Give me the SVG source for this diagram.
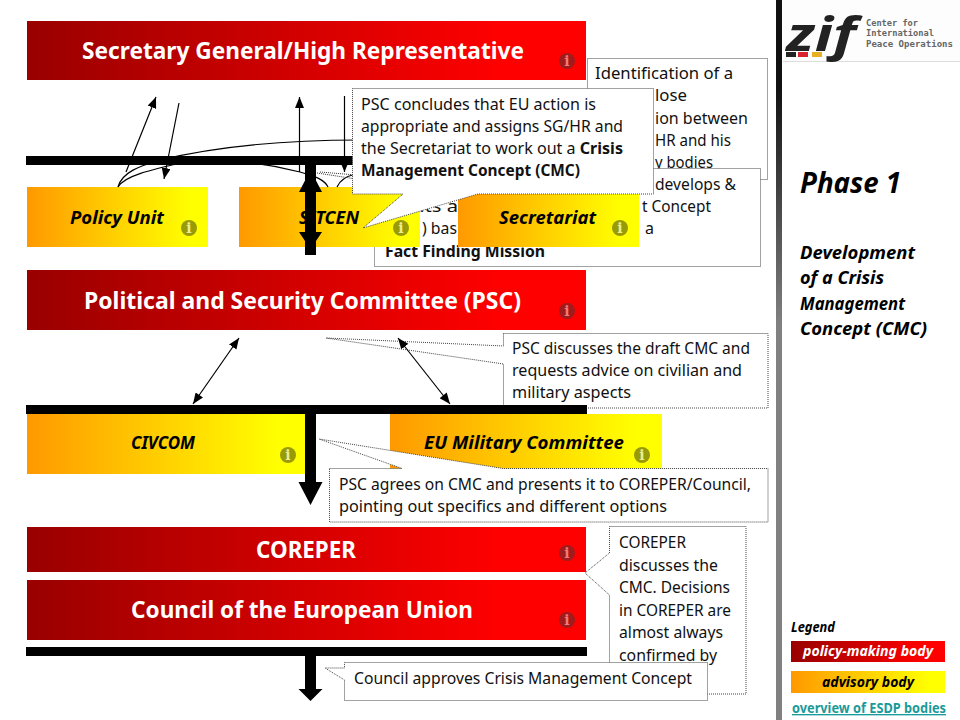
<svg xmlns="http://www.w3.org/2000/svg" width="960" height="720" viewBox="0 0 960 720">
<style>
text{font-family:"Noto Sans","Open Sans","Liberation Sans",sans-serif}
.t{font-size:16px;fill:#111}
.tb{font-size:16px;fill:#111;font-weight:700}
.h{font-size:24px;font-weight:700;fill:#fff;text-anchor:start}
.a{font-size:17px;font-weight:700;font-style:italic;fill:#000}
.p{font-size:18px;font-weight:700;font-style:italic;fill:#000}
.box{fill:#fff;stroke:#444;stroke-width:1;stroke-dasharray:1 1}
.bar{fill:#000}
.thin{fill:none;stroke:#000;stroke-width:1.2}
.ar{stroke:#000;stroke-width:1.2;fill:none;marker-end:url(#ah)}
.ar2{stroke:#000;stroke-width:1.2;fill:none;marker-end:url(#ah);marker-start:url(#ahs)}
.ir{fill:#a01c1c}.iy{fill:#999a08}
.il{font-family:"DejaVu Serif",serif;font-size:14px;font-weight:700;text-anchor:middle}
.ilr{fill:#f47878}.ily{fill:#eded90}
.lg{font-family:"DejaVu Sans Mono",monospace;font-size:9.500px;font-weight:700;fill:#666}
</style>
<defs>
<linearGradient id="red"><stop offset="0" stop-color="#990000"/><stop offset="0.85" stop-color="#ff0000"/></linearGradient>
<linearGradient id="org"><stop offset="0" stop-color="#ff9900"/><stop offset="0.9" stop-color="#ffff00"/></linearGradient>
<linearGradient id="vline" x1="0" y1="0" x2="0" y2="1"><stop offset="0.12" stop-color="#111"/><stop offset="0.45" stop-color="#808080"/></linearGradient>
<marker id="ah" markerUnits="userSpaceOnUse" markerWidth="12" markerHeight="10" refX="11" refY="4.5" orient="auto"><path d="M0 0L11 4.5L0 9z" fill="#000"/></marker>
<marker id="ahs" markerUnits="userSpaceOnUse" markerWidth="12" markerHeight="10" refX="0" refY="4.5" orient="auto"><path d="M11 0L0 4.5L11 9z" fill="#000"/></marker>
</defs>

<rect x="776" y="0" width="6" height="720" fill="url(#vline)"/>

<g id="note-identification">
<rect class="box" x="587.500" y="58.500" width="180" height="121"/>
<text class="t" x="595" y="79" textLength="138" lengthAdjust="spacingAndGlyphs">Identification of a</text>
<text class="t" x="655" y="101" textLength="32" lengthAdjust="spacingAndGlyphs">lose</text>
<text class="t" x="655" y="124" textLength="93" lengthAdjust="spacingAndGlyphs">ion between</text>
<text class="t" x="655" y="146" textLength="76" lengthAdjust="spacingAndGlyphs">HR and his</text>
<text class="t" x="655" y="168" textLength="58" lengthAdjust="spacingAndGlyphs">y bodies</text>
</g>
<g id="note-secretariat">
<rect class="box" x="374.500" y="168.500" width="386" height="98"/>
<text class="t" x="655" y="190" textLength="81" lengthAdjust="spacingAndGlyphs">develops &amp;</text>
<text class="t" x="642" y="212" textLength="69" lengthAdjust="spacingAndGlyphs">t Concept</text>
<text class="t" x="412" y="212" textLength="46" lengthAdjust="spacingAndGlyphs">nts a</text>
<text class="t" x="422" y="234" textLength="35" lengthAdjust="spacingAndGlyphs">) bas</text>
<text class="t" x="645" y="234">a</text>
<text class="tb" x="385" y="257" textLength="160" lengthAdjust="spacingAndGlyphs">Fact Finding Mission</text>
</g>

<g id="sg-hr">
<rect x="27" y="21" width="559" height="59" fill="url(#red)"/>
<text class="h" x="82" y="59" textLength="442" lengthAdjust="spacingAndGlyphs">Secretary General/High Representative</text>
<circle class="ir" cx="567" cy="61" r="8"/><text class="il ilr" x="567" y="66">i</text>
</g>
<g id="policy-unit">
<rect x="27" y="187" width="181" height="60" fill="url(#org)"/>
<text class="a" x="70" y="224" textLength="94" lengthAdjust="spacingAndGlyphs">Policy Unit</text>
<circle class="iy" cx="189" cy="228" r="8"/><text class="il ily" x="189" y="233">i</text>
</g>
<g id="sitcen">
<rect x="239" y="187" width="181" height="60" fill="url(#org)"/>
<text class="a" x="299" y="224" textLength="60" lengthAdjust="spacingAndGlyphs">SITCEN</text>
<circle class="iy" cx="401" cy="228" r="8"/><text class="il ily" x="401" y="233">i</text>
</g>
<g id="secretariat">
<rect x="458" y="187" width="181" height="60" fill="url(#org)"/>
<text class="a" x="499" y="224" textLength="97" lengthAdjust="spacingAndGlyphs">Secretariat</text>
<circle class="iy" cx="620" cy="228" r="8"/><text class="il ily" x="620" y="233">i</text>
</g>
<g id="psc">
<rect x="27" y="270" width="559" height="60" fill="url(#red)"/>
<text class="h" x="84" y="309" textLength="437" lengthAdjust="spacingAndGlyphs">Political and Security Committee (PSC)</text>
<circle class="ir" cx="567" cy="311" r="8"/><text class="il ilr" x="567" y="316">i</text>
</g>
<g id="civcom">
<rect x="27" y="414" width="278" height="60" fill="url(#org)"/>
<text class="a" x="131" y="449" textLength="64" lengthAdjust="spacingAndGlyphs">CIVCOM</text>
<circle class="iy" cx="288" cy="455" r="8"/><text class="il ily" x="288" y="460">i</text>
</g>
<g id="eumc">
<rect x="390" y="414" width="272" height="60" fill="url(#org)"/>
<text class="a" x="424" y="449" textLength="200" lengthAdjust="spacingAndGlyphs">EU Military Committee</text>
<circle class="iy" cx="642" cy="455" r="8"/><text class="il ily" x="642" y="460">i</text>
</g>
<g id="coreper">
<rect x="27" y="527" width="559" height="45" fill="url(#red)"/>
<text class="h" x="256" y="558" textLength="100" lengthAdjust="spacingAndGlyphs">COREPER</text>
<circle class="ir" cx="567" cy="553" r="8"/><text class="il ilr" x="567" y="558">i</text>
</g>
<g id="council">
<rect x="27" y="580" width="559" height="60" fill="url(#red)"/>
<text class="h" x="131" y="618" textLength="342" lengthAdjust="spacingAndGlyphs">Council of the European Union</text>
<circle class="ir" cx="567" cy="620" r="8"/><text class="il ilr" x="567" y="625">i</text>
</g>

<g id="note-psc-discusses">
<path class="box" d="M503.500 333.500H768V408H503.500V364L326 338L503.500 346Z"/>
<text class="t" x="512" y="354" textLength="238" lengthAdjust="spacingAndGlyphs">PSC discusses the draft CMC and</text>
<text class="t" x="512" y="376" textLength="230" lengthAdjust="spacingAndGlyphs">requests advice on civilian and</text>
<text class="t" x="512" y="398" textLength="119" lengthAdjust="spacingAndGlyphs">military aspects</text>
</g>

<g id="connectors">
<rect class="bar" x="26" y="156" width="560" height="9"/>
<rect class="bar" x="26" y="405" width="561" height="9"/>
<rect class="bar" x="26" y="647" width="561" height="9"/>
<path class="ar" d="M126 172L156 97"/>
<path class="ar" d="M179 103L164 179"/>
<path class="ar" d="M299.500 172V97"/>
<path class="ar" d="M344.500 96V172"/>
<path class="thin" d="M118 187C122 172 140 166 160 160C210 148 280 140 360 140"/>
<path class="thin" d="M118 187C124 176 150 170 185 162C220 158 262 162 300 172C315 176 325 180 328 187"/>
<path class="thin" d="M337 187C340 180 347 176 356 174"/>
<path d="M317 173L356 179M320 172L356 175" fill="none" stroke="#333" stroke-width="1" stroke-dasharray="1 1"/>
<path class="ar2" d="M193 404L239 338"/>
<path class="ar2" d="M450 404L398 338"/>
<path class="bar" d="M305 165H316V232H322L316 241V255H305V241L299 232H305V192H299L310.500 170L322 192H316V232H305Z"/>
<path class="bar" d="M305 414H316V482H322.500L310.500 505L298.500 482H305Z"/>
<path class="bar" d="M305 656H316V689H322.500L310.500 701L298.500 689H305Z"/>
</g>

<g id="note-psc-concludes">
<path class="box" d="M352.500 88.500H653.500V194H478L363 228L403 194H352.500Z"/>
<text class="t" x="361" y="110" textLength="235" lengthAdjust="spacingAndGlyphs">PSC concludes that EU action is</text>
<text class="t" x="361" y="132" textLength="262" lengthAdjust="spacingAndGlyphs">appropriate and assigns SG/HR and</text>
<text class="t" x="361" y="154" textLength="262" lengthAdjust="spacingAndGlyphs">the Secretariat to work out a <tspan font-weight="700">Crisis</tspan></text>
<text class="tb" x="361" y="176" textLength="219" lengthAdjust="spacingAndGlyphs">Management Concept (CMC)</text>
</g>
<g id="note-psc-agrees">
<path class="box" d="M329.500 468.500H402L319 439L503 468.500H768V522H329.500Z"/>
<text class="t" x="339" y="490" textLength="412" lengthAdjust="spacingAndGlyphs">PSC agrees on CMC and presents it to COREPER/Council,</text>
<text class="t" x="339" y="512" textLength="328" lengthAdjust="spacingAndGlyphs">pointing out specifics and different options</text>
</g>
<g id="note-coreper">
<path class="box" d="M609.500 526.500H746V694H609.500V595L585 573L609.500 553Z"/>
<text class="t" x="619" y="548" textLength="67" lengthAdjust="spacingAndGlyphs">COREPER</text>
<text class="t" x="619" y="571" textLength="99" lengthAdjust="spacingAndGlyphs">discusses the</text>
<text class="t" x="619" y="593" textLength="111" lengthAdjust="spacingAndGlyphs">CMC. Decisions</text>
<text class="t" x="619" y="616" textLength="112" lengthAdjust="spacingAndGlyphs">in COREPER are</text>
<text class="t" x="619" y="638" textLength="104" lengthAdjust="spacingAndGlyphs">almost always</text>
<text class="t" x="619" y="661" textLength="98" lengthAdjust="spacingAndGlyphs">confirmed by</text>
</g>
<g id="note-council">
<path class="box" d="M344.500 662.500H707.500V700.500H344.500V680L325 668L344.500 668Z"/>
<text class="t" x="354" y="684" textLength="338" lengthAdjust="spacingAndGlyphs">Council approves Crisis Management Concept</text>
</g>

<g id="logo">
<rect x="783" y="0" width="177" height="61" fill="#fdfdfd"/>
<path d="M783 61.500H960" stroke="#ddd" stroke-width="1"/>
<text x="786" y="51" font-size="47" font-weight="700" font-style="italic" fill="#222" textLength="70" lengthAdjust="spacingAndGlyphs">zif</text>
<rect x="786" y="52" width="10" height="5" fill="#222"/><rect x="798" y="52" width="10" height="5" fill="#d9232e"/><rect x="812" y="52" width="10" height="5" fill="#e8b020"/>
<text class="lg" x="866" y="26" textLength="52" lengthAdjust="spacingAndGlyphs">Center for</text>
<text class="lg" x="866" y="36" textLength="68" lengthAdjust="spacingAndGlyphs">International</text>
<text class="lg" x="866" y="47" textLength="87" lengthAdjust="spacingAndGlyphs">Peace Operations</text>
</g>

<g id="phase">
<text x="800" y="193" font-size="29" font-weight="700" font-style="italic" fill="#000" textLength="101" lengthAdjust="spacingAndGlyphs">Phase 1</text>
<text class="p" x="800" y="259" textLength="115" lengthAdjust="spacingAndGlyphs">Development</text>
<text class="p" x="800" y="284" textLength="84" lengthAdjust="spacingAndGlyphs">of a Crisis</text>
<text class="p" x="800" y="310" textLength="105" lengthAdjust="spacingAndGlyphs">Management</text>
<text class="p" x="800" y="335" textLength="127" lengthAdjust="spacingAndGlyphs">Concept (CMC)</text>
</g>

<g id="legend">
<text x="791" y="632" font-size="14" font-weight="700" font-style="italic" fill="#000" textLength="44" lengthAdjust="spacingAndGlyphs">Legend</text>
<rect x="791" y="641" width="154" height="21" fill="url(#red)"/>
<text x="803" y="656" font-size="14" font-weight="700" font-style="italic" fill="#fff" textLength="130" lengthAdjust="spacingAndGlyphs">policy-making body</text>
<rect x="791" y="671" width="154" height="22" fill="url(#org)"/>
<text x="822" y="687" font-size="14" font-weight="700" font-style="italic" fill="#000" textLength="92" lengthAdjust="spacingAndGlyphs">advisory body</text>
<text x="792" y="713" font-size="13.500" font-weight="700" fill="#1a9a9a" text-decoration="underline" textLength="154" lengthAdjust="spacingAndGlyphs">overview of ESDP bodies</text>
</g>
</svg>
